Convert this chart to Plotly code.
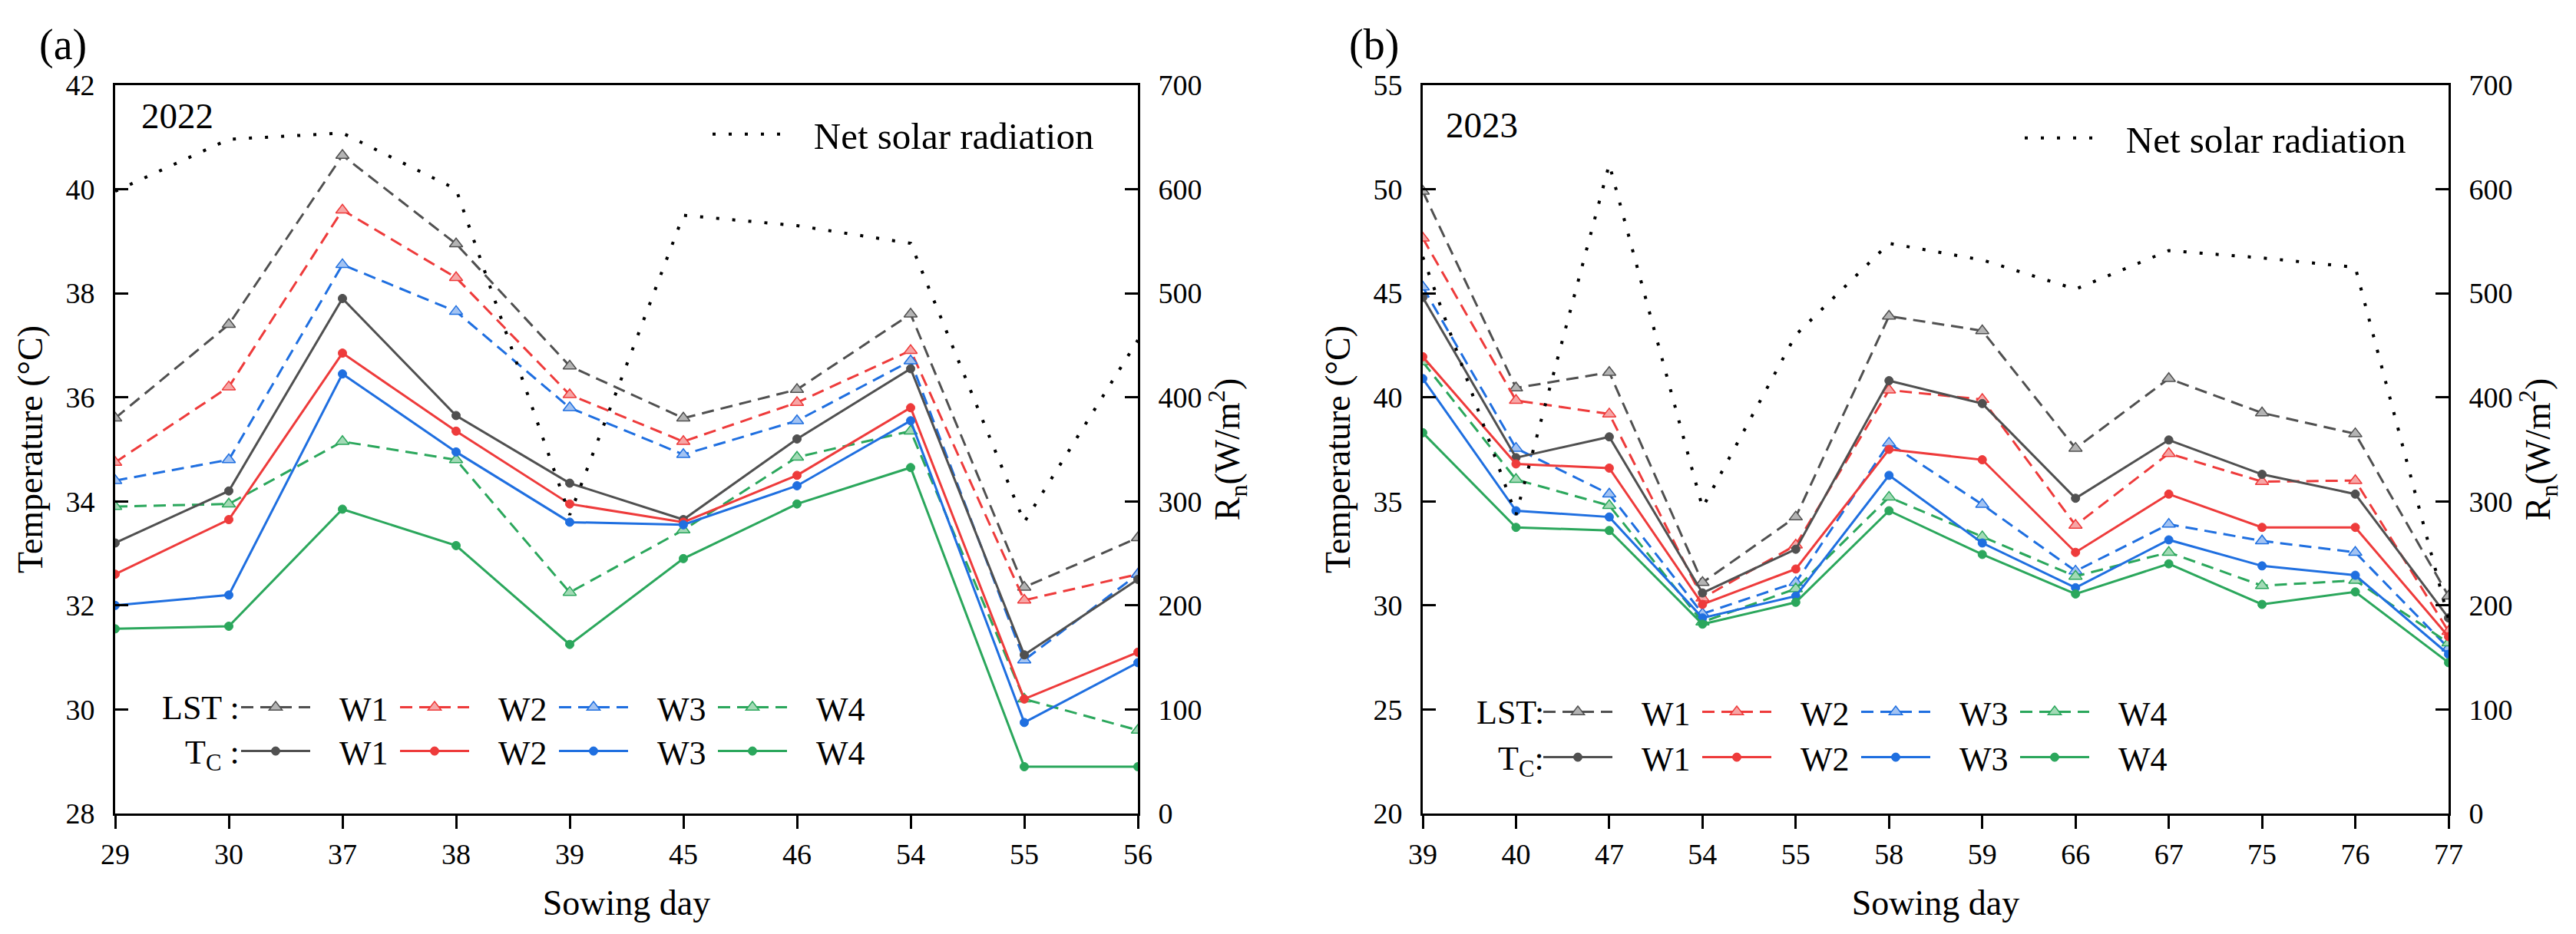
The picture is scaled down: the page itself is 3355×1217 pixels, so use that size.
import plotly.graph_objects as go

# ---- data ----
days_a = ["29", "30", "37", "38", "39", "45", "46", "54", "55", "56"]
lst_a_w1 = [35.6, 37.4, 40.65, 38.95, 36.6, 35.6, 36.15, 37.6, 32.35, 33.3]
lst_a_w2 = [34.75, 36.2, 39.6, 38.3, 36.05, 35.15, 35.9, 36.9, 32.1, 32.6]
lst_a_w3 = [34.4, 34.8, 38.55, 37.65, 35.8, 34.9, 35.55, 36.7, 30.95, 32.6]
lst_a_w4 = [33.9, 33.95, 35.15, 34.8, 32.25, 33.45, 34.85, 35.35, 30.2, 29.6]
tc_a_w1 = [33.2, 34.2, 37.9, 35.65, 34.35, 33.65, 35.2, 36.55, 31.05, 32.5]
tc_a_w2 = [32.6, 33.65, 36.85, 35.35, 33.95, 33.6, 34.5, 35.8, 30.2, 31.1]
tc_a_w3 = [32.0, 32.2, 36.45, 34.95, 33.6, 33.55, 34.3, 35.55, 29.75, 30.9]
tc_a_w4 = [31.55, 31.6, 33.85, 33.15, 31.25, 32.9, 33.95, 34.65, 28.9, 28.9]
rn_a = [598, 648, 654, 600, 287, 575, 565, 548, 280, 455]

days_b = ["39", "40", "47", "54", "55", "58", "59", "66", "67", "75", "76", "77"]
lst_b_w1 = [49.9, 40.45, 41.2, 31.1, 34.25, 43.9, 43.2, 37.55, 40.9, 39.25, 38.25, 30.45]
lst_b_w2 = [47.65, 39.85, 39.2, 30.35, 32.9, 40.35, 39.9, 33.85, 37.3, 35.95, 36.0, 28.75]
lst_b_w3 = [45.3, 37.55, 35.35, 29.6, 31.1, 37.8, 34.85, 31.65, 33.9, 33.1, 32.55, 27.95]
lst_b_w4 = [41.7, 36.05, 34.8, 29.2, 30.8, 35.2, 33.3, 31.4, 32.55, 30.95, 31.2, 28.2]
tc_b_w1 = [44.8, 37.1, 38.1, 30.6, 32.7, 40.8, 39.7, 35.15, 37.95, 36.3, 35.35, 29.4]
tc_b_w2 = [41.95, 36.8, 36.6, 30.05, 31.75, 37.5, 37.0, 32.55, 35.35, 33.75, 33.75, 28.5]
tc_b_w3 = [40.9, 34.55, 34.25, 29.4, 30.45, 36.25, 33.0, 30.85, 33.15, 31.9, 31.45, 27.65]
tc_b_w4 = [38.3, 33.75, 33.6, 29.1, 30.15, 34.55, 32.45, 30.55, 32.0, 30.05, 30.65, 27.25]
rn_b = [535, 287, 624, 294, 460, 548, 532, 504, 541, 534, 525, 187]

names = ["W1", "W2", "W3", "W4"]
line_colors = ["#505050", "#EE3B3B", "#1F6FE0", "#2BA75C"]
fill_colors = ["#B4B4B4", "#F6A6A6", "#A3C3F2", "#A3DAB6"]

FONT = "Liberation Serif, Times New Roman, DejaVu Serif, serif"
W, H = 3355, 1217
L, R, T, B = 142, 3181, 103, 1052
SP = "\u00a0\u00a0\u00a0"


def px(x):
    return (x - L) / (R - L)


def py(y):
    return (B - y) / (B - T)


fig = go.Figure()


def add_panel(days, lst, tc, rn, xa, ya, ya2, leg_lst, leg_tc, leg_rn):
    for i in range(4):
        fig.add_trace(go.Scatter(
            x=days, y=lst[i], xaxis=xa, yaxis=ya, mode="lines+markers",
            name=SP + names[i], legend=leg_lst,
            line=dict(color=line_colors[i], width=3, dash="16px,9px"),
            marker=dict(symbol="triangle-up", size=15, color=fill_colors[i],
                        line=dict(color=line_colors[i], width=1.5))))
    for i in range(4):
        fig.add_trace(go.Scatter(
            x=days, y=tc[i], xaxis=xa, yaxis=ya, mode="lines+markers",
            name=SP + names[i], legend=leg_tc,
            line=dict(color=line_colors[i], width=3),
            marker=dict(symbol="circle", size=11, color=line_colors[i],
                        line=dict(color=line_colors[i], width=1))))
    fig.add_trace(go.Scatter(
        x=days, y=rn, xaxis=xa, yaxis=ya2, mode="lines",
        name=SP + "Net solar radiation", legend=leg_rn,
        line=dict(color="black", width=4, dash="4px,17px")))


add_panel(days_a, [lst_a_w1, lst_a_w2, lst_a_w3, lst_a_w4],
          [tc_a_w1, tc_a_w2, tc_a_w3, tc_a_w4], rn_a,
          "x", "y", "y2", "legend", "legend2", "legend3")
add_panel(days_b, [lst_b_w1, lst_b_w2, lst_b_w3, lst_b_w4],
          [tc_b_w1, tc_b_w2, tc_b_w3, tc_b_w4], rn_b,
          "x2", "y3", "y4", "legend4", "legend5", "legend6")

tickfont = dict(family=FONT, size=38, color="black")
titlefont = dict(family=FONT, size=46, color="black")


def xaxis(domain, n, anchor):
    return dict(domain=domain, anchor=anchor, type="category", range=[0, n - 1],
                showline=True, linewidth=3, linecolor="black", mirror=True,
                ticks="outside", ticklen=17, tickwidth=3, tickcolor="black",
                showgrid=False, zeroline=False, tickfont=tickfont,
                title=dict(text="Sowing day", font=titlefont, standoff=28),
                automargin=False)


def yaxis(rng, dtick, anchor, title, side="left", overlaying=None):
    d = dict(domain=[0, 1], anchor=anchor, range=rng, dtick=dtick, side=side,
             showline=True, linewidth=3, linecolor="black",
             ticks="inside", ticklen=17, tickwidth=3, tickcolor="black",
             showgrid=False, zeroline=False, tickfont=tickfont,
             ticklabelstandoff=16,
             title=dict(text=title, font=titlefont, standoff=16),
             automargin=False)
    if overlaying:
        d["overlaying"] = overlaying
    return d


rn_title = "R<sub>n</sub>(W/m<sup>2</sup>)"


def legend(x, y, entrywidth=102, size=44):
    return dict(x=x, y=y, xanchor="left", yanchor="middle", orientation="h",
                entrywidth=entrywidth, entrywidthmode="pixels", itemwidth=90,
                font=dict(family=FONT, size=size, color="black"),
                bgcolor="rgba(0,0,0,0)", borderwidth=0, traceorder="normal",
                tracegroupgap=0, itemclick=False, itemdoubleclick=False)


fig.update_layout(
    width=W, height=H,
    margin=dict(l=L, r=W - R, t=T, b=H - B, pad=0),
    paper_bgcolor="white", plot_bgcolor="white",
    font=dict(family=FONT, color="black"),
    showlegend=True,
    xaxis=xaxis([0, px(1474)], len(days_a), "y"),
    yaxis=yaxis([28, 42], 2, "x", "Temperature (°C)"),
    yaxis2=yaxis([0, 700], 100, "x", rn_title, side="right", overlaying="y"),
    xaxis2=xaxis([px(1845), 1], len(days_b), "y3"),
    yaxis3=yaxis([20, 55], 5, "x2", "Temperature (°C)"),
    yaxis4=yaxis([0, 700], 100, "x2", rn_title, side="right", overlaying="y3"),
    legend=legend(px(301), py(914)),
    legend2=legend(px(301), py(971)),
    legend3=legend(px(915), py(167), entrywidth=0, size=49),
    legend4=legend(px(1997), py(920)),
    legend5=legend(px(1997), py(979)),
    legend6=legend(px(2624), py(172), entrywidth=0, size=49),
)

ann_font = dict(family=FONT, size=47, color="black")
lbl_font = dict(family=FONT, size=44, color="black")
annotations = [
    dict(text="(a)", x=px(74), y=py(50), font=dict(family=FONT, size=56, color="black")),
    dict(text="(b)", x=px(1781), y=py(50), font=dict(family=FONT, size=56, color="black")),
    dict(text="2022", x=px(174), y=py(143), xanchor="left", font=ann_font),
    dict(text="2023", x=px(1873), y=py(155), xanchor="left", font=ann_font),
    dict(text="LST :", x=px(306), y=py(914), xanchor="right", font=lbl_font),
    dict(text="T<sub>C</sub> :", x=px(306), y=py(975), xanchor="right", font=lbl_font),
    dict(text="LST:", x=px(2005), y=py(920), xanchor="right", font=lbl_font),
    dict(text="T<sub>C</sub>:", x=px(2005), y=py(983), xanchor="right", font=lbl_font),
]
for a in annotations:
    a.setdefault("xanchor", "center")
    a.update(xref="paper", yref="paper", yanchor="middle", showarrow=False)
fig.update_layout(annotations=annotations)

fig.write_html("out.html")
